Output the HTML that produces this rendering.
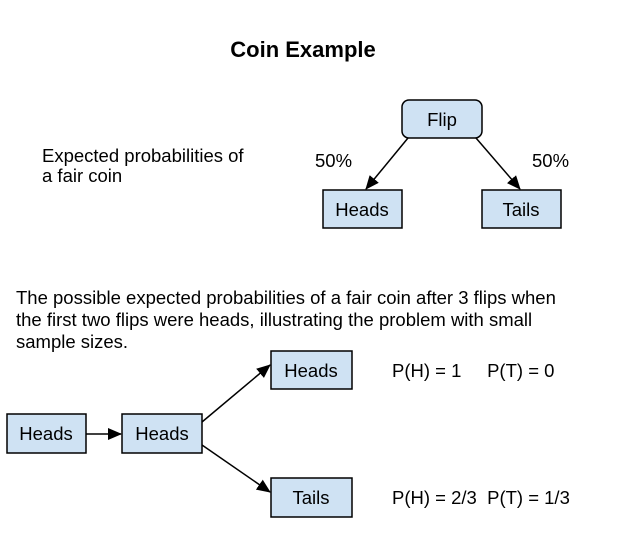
<!DOCTYPE html>
<html><head><style>
body{margin:0;background:#fff;}
svg text{font-family:"Liberation Sans",Arial,sans-serif;fill:#000;}
</style></head><body>
<svg width="619" height="543" viewBox="0 0 619 543" xmlns="http://www.w3.org/2000/svg">
<defs><marker id="a" markerWidth="14" markerHeight="12" refX="13" refY="6" orient="auto" markerUnits="userSpaceOnUse"><path d="M0,0 L14,6 L0,12 z" fill="#000"/></marker></defs>
<text x="303" y="57" font-size="22" font-weight="bold" text-anchor="middle">Coin Example</text>
<text x="42" y="162" font-size="18.5">Expected probabilities of</text>
<text x="42" y="182" font-size="18.5">a fair coin</text>
<text x="315" y="167" font-size="18.5">50%</text>
<text x="532" y="167" font-size="18.5">50%</text>
<g fill="#cfe2f3" stroke="#000" stroke-width="1.5">
<rect x="402" y="100" width="80" height="38" rx="7"/>
<rect x="323" y="190" width="79" height="38"/>
<rect x="482" y="190" width="79" height="38"/>
<rect x="7" y="414" width="79" height="39"/>
<rect x="122" y="414" width="80" height="39"/>
<rect x="271" y="351" width="81" height="38"/>
<rect x="271" y="478" width="81" height="39"/>
</g>
<g stroke="#000" stroke-width="1.5" marker-end="url(#a)">
<line x1="408" y1="138" x2="366" y2="189"/>
<line x1="476" y1="138" x2="520" y2="189"/>
<line x1="86" y1="434" x2="121" y2="434"/>
<line x1="202" y1="422" x2="270" y2="365"/>
<line x1="202" y1="445" x2="270" y2="492"/>
</g>
<g font-size="18.5" text-anchor="middle">
<text x="442" y="126">Flip</text>
<text x="362" y="216">Heads</text>
<text x="521" y="216">Tails</text>
<text x="46" y="440">Heads</text>
<text x="162" y="440">Heads</text>
<text x="311" y="377">Heads</text>
<text x="311" y="504">Tails</text>
</g>
<text x="16" y="304" font-size="18.5">The possible expected probabilities of a fair coin after 3 flips when</text>
<text x="16" y="326" font-size="18.5">the first two flips were heads, illustrating the problem with small</text>
<text x="16" y="348" font-size="18.5">sample sizes.</text>
<text x="392" y="377" font-size="18.5" xml:space="preserve">P(H) = 1     P(T) = 0</text>
<text x="392" y="504" font-size="18.5" xml:space="preserve">P(H) = 2/3  P(T) = 1/3</text>
</svg>
</body></html>
